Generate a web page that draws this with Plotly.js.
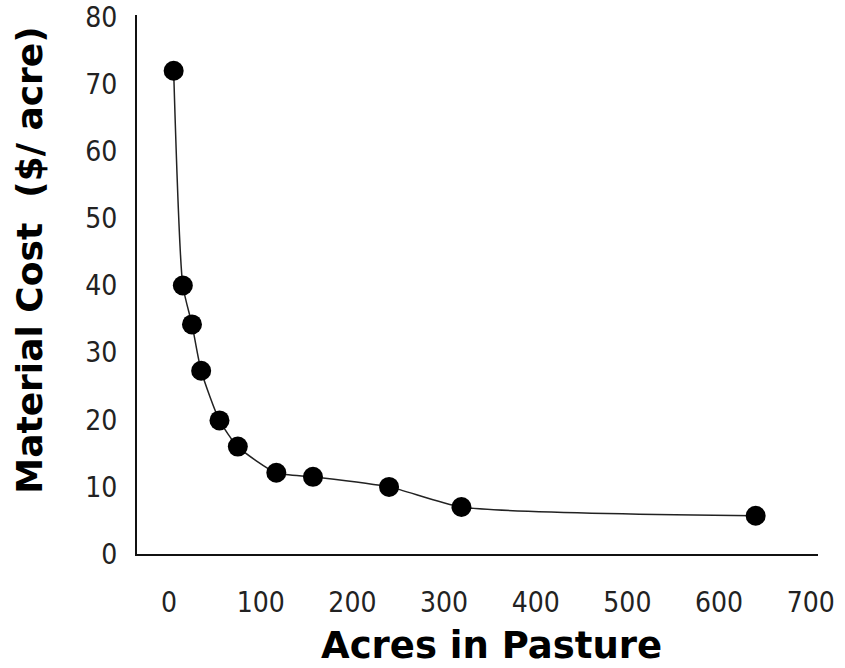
<!DOCTYPE html>
<html>
<head>
<meta charset="utf-8">
<script src="https://cdn.plot.ly/plotly-3.0.1.min.js"></script>
<style>html,body{margin:0;padding:0;background:#fff;}#chart{width:845px;height:668px;}</style>
</head>
<body>
<div id="chart"></div>
<script>
const acres = [5, 15, 25, 35, 55, 75, 117, 157, 240, 319, 640];
const cost = [72, 40, 34.2, 27.3, 19.9, 16, 12.1, 11.5, 10, 7, 5.7];
const xTicks = [0, 100, 200, 300, 400, 500, 600, 700];
const yTicks = [0, 10, 20, 30, 40, 50, 60, 70, 80];
const xTitle = 'Acres in Pasture';
const yTitle = 'Material Cost&nbsp;&nbsp;($/ acre)';

const trace = {
  x: acres, y: cost, type: 'scatter', mode: 'lines+markers',
  line: {color: '#222', width: 1.5, shape: 'spline', smoothing: 0.6},
  marker: {color: '#000', size: 20, symbol: 'circle'},
  hoverinfo: 'skip'
};
const layout = {
  width: 845, height: 668,
  margin: {l: 137, r: 27, t: 15, b: 114},
  paper_bgcolor: '#fff', plot_bgcolor: '#fff',
  showlegend: false,
  font: {family: 'DejaVu Sans Condensed, DejaVu Sans', color: '#222'},
  xaxis: {
    range: [-35, 708], tickvals: xTicks, ticktext: xTicks.map(String),
    showgrid: false, zeroline: false, showline: true, linecolor: '#111', linewidth: 2,
    ticks: '', tickfont: {size: 28, color: '#222'}, ticklabelstandoff: 22
  },
  yaxis: {
    range: [0, 80.3], tickvals: yTicks, ticktext: yTicks.map(String),
    showgrid: false, zeroline: false, showline: true, linecolor: '#111', linewidth: 2,
    ticks: '', tickfont: {size: 28, color: '#222'}, ticklabelstandoff: 12
  },
  annotations: [
    {text: '<b>' + xTitle + '</b>', xref: 'paper', yref: 'paper', x: 0.52, y: -0.17,
     xanchor: 'center', yanchor: 'middle', showarrow: false,
     font: {family: 'DejaVu Sans', size: 37, color: '#000'}},
    {text: '<b>' + yTitle + '</b>', xref: 'paper', yref: 'paper', x: -0.158, y: 0.545,
     xanchor: 'center', yanchor: 'middle', showarrow: false, textangle: -90,
     font: {family: 'DejaVu Sans', size: 36, color: '#000'}}
  ]
};
Plotly.newPlot('chart', [trace], layout, {displayModeBar: false, staticPlot: true});
</script>
</body>
</html>
